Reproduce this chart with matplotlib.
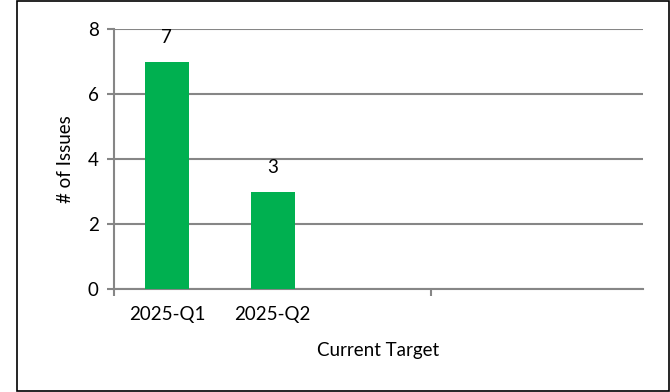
import matplotlib.pyplot as plt
import numpy as np
from matplotlib.patches import Rectangle

categories = ['2025-Q1', '2025-Q2', '', '', '']
issues = [7, 3, None, None, None]
yticks = [0, 2, 4, 6, 8]

plt.rcParams['font.family'] = ['Lato', 'DejaVu Sans']
fs = 13.5

fig = plt.figure(figsize=(6.7, 3.92), dpi=100)
ax = fig.add_axes([114 / 670, 1 - 289 / 392, (643 - 114) / 670, (289 - 29) / 392])

grey = '#868686'
x = np.arange(len(categories))
vals = [v if v is not None else 0 for v in issues]
bars = ax.bar(x[:2], vals[:2], width=0.415, color='#00B050', zorder=3)
for xi, v in zip(x[:2], vals[:2]):
    ax.annotate(str(v), (xi, v), xytext=(0, 17), textcoords='offset points',
                ha='center', va='center', fontsize=fs)

ax.set_xlim(-0.5, len(categories) - 0.5)
ax.set_ylim(0, 8)
ax.set_yticks(yticks)
ax.yaxis.grid(True, color=grey, linewidth=1.5, zorder=0)
ax.tick_params(axis='y', length=5, width=1.5, color=grey, labelsize=fs, pad=6)

# category labels without ticks, tick marks every 3 categories
ax.set_xticks(x)
ax.set_xticklabels(categories, fontsize=fs)
ax.tick_params(axis='x', length=0, pad=12)
ax.set_xticks([-0.5, 2.5], minor=True)
ax.tick_params(axis='x', which='minor', length=5, width=1.5, color=grey)

for s in ['top', 'right']:
    ax.spines[s].set_visible(False)
for s in ['left', 'bottom']:
    ax.spines[s].set_color(grey)
    ax.spines[s].set_linewidth(1.5)

ax.set_ylabel('# of Issues', fontsize=fs, labelpad=10)
ax.set_xlabel('Current Target', fontsize=fs, labelpad=14)

fig.patches.append(Rectangle((17 / 670, 0.002), 1 - 17 / 670 - 0.002, 0.995,
                             transform=fig.transFigure, fill=False,
                             edgecolor='black', linewidth=1.2))

fig.savefig('out.png', dpi=100)
